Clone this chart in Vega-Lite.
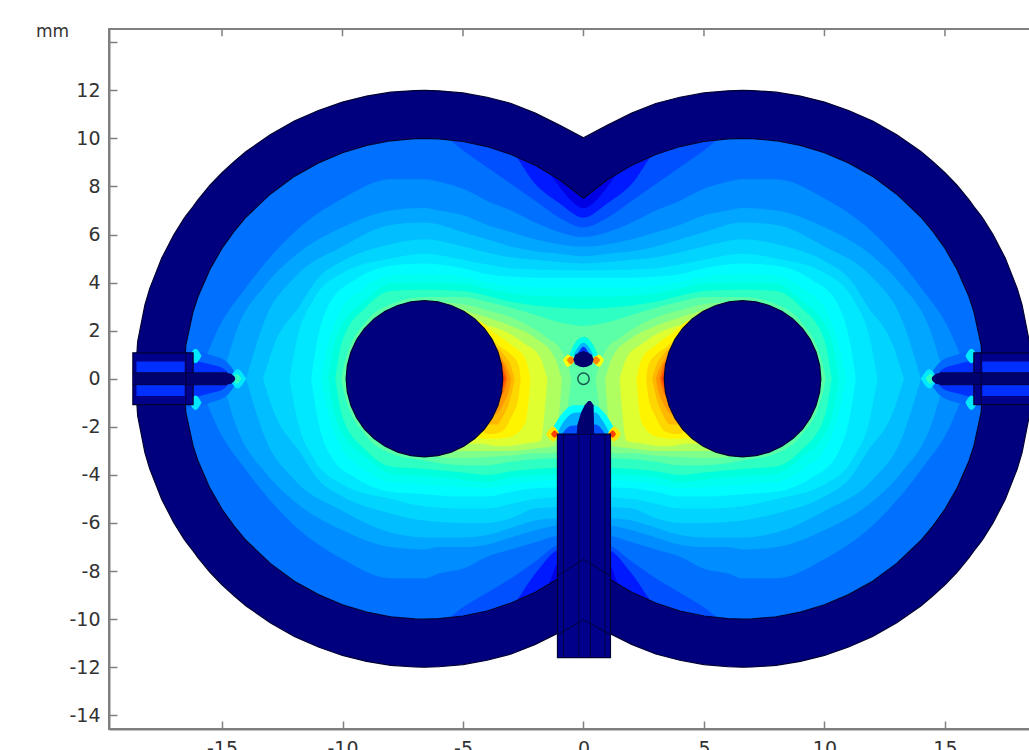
{"$schema":"https://vega.github.io/schema/vega-lite/v6.json","width":948,"height":700,"autosize":"none","padding":{"left":109,"top":29,"right":0,"bottom":40},"background":"white","view":{"stroke":"#808080","strokeWidth":2,"fill":"white"},
"datasets":{
"contours":[
{"s":"a","v":0.10,"x":-16.8,"y":0,"y2":0},{"s":"a","v":0.10,"x":-16.5,"y":3,"y2":-3},{"s":"a","v":0.10,"x":-16,"y":4,"y2":-4},{"s":"a","v":0.10,"x":-15,"y":6,"y2":-6},{"s":"a","v":0.10,"x":-14,"y":7.5,"y2":-7.5},{"s":"a","v":0.10,"x":-12,"y":9,"y2":-9},{"s":"a","v":0.10,"x":-10,"y":10,"y2":-10},{"s":"a","v":0.10,"x":-6.6,"y":10.5,"y2":-10.5},{"s":"a","v":0.10,"x":-4,"y":10.2,"y2":-10.2},{"s":"a","v":0.10,"x":-2,"y":9.5,"y2":-9.5},{"s":"a","v":0.10,"x":0,"y":8,"y2":-8},{"s":"a","v":0.10,"x":2,"y":9.5,"y2":-9.5},{"s":"a","v":0.10,"x":4,"y":10.2,"y2":-10.2},{"s":"a","v":0.10,"x":6.6,"y":10.5,"y2":-10.5},{"s":"a","v":0.10,"x":10,"y":10,"y2":-10},{"s":"a","v":0.10,"x":12,"y":9,"y2":-9},{"s":"a","v":0.10,"x":14,"y":7.5,"y2":-7.5},{"s":"a","v":0.10,"x":15,"y":6,"y2":-6},{"s":"a","v":0.10,"x":16,"y":4,"y2":-4},{"s":"a","v":0.10,"x":16.5,"y":3,"y2":-3},{"s":"a","v":0.10,"x":16.8,"y":0,"y2":0},
{"s":"b","v":0.13,"x":-16.8,"y":0,"y2":0},{"s":"b","v":0.13,"x":-16.5,"y":3,"y2":-3},{"s":"b","v":0.13,"x":-16,"y":4,"y2":-4},{"s":"b","v":0.13,"x":-15,"y":6,"y2":-6},{"s":"b","v":0.13,"x":-14,"y":7.5,"y2":-7.5},{"s":"b","v":0.13,"x":-12,"y":9,"y2":-9},{"s":"b","v":0.13,"x":-10,"y":10,"y2":-10},{"s":"b","v":0.13,"x":-6.6,"y":10.5,"y2":-10.5},{"s":"b","v":0.13,"x":-4,"y":10.2,"y2":-10.2},{"s":"b","v":0.13,"x":-2,"y":9.5,"y2":-9.5},{"s":"b","v":0.13,"x":-1.5,"y":8.7,"y2":-8.7},{"s":"b","v":0.13,"x":-1,"y":8,"y2":-7.6},{"s":"b","v":0.13,"x":-0.6,"y":7.5,"y2":-7.5},{"s":"b","v":0.13,"x":0,"y":7.1,"y2":-7.4},{"s":"b","v":0.13,"x":0.6,"y":7.5,"y2":-7.5},{"s":"b","v":0.13,"x":1,"y":8,"y2":-7.6},{"s":"b","v":0.13,"x":1.5,"y":8.7,"y2":-8.7},{"s":"b","v":0.13,"x":2,"y":9.5,"y2":-9.5},{"s":"b","v":0.13,"x":4,"y":10.2,"y2":-10.2},{"s":"b","v":0.13,"x":6.6,"y":10.5,"y2":-10.5},{"s":"b","v":0.13,"x":10,"y":10,"y2":-10},{"s":"b","v":0.13,"x":12,"y":9,"y2":-9},{"s":"b","v":0.13,"x":14,"y":7.5,"y2":-7.5},{"s":"b","v":0.13,"x":15,"y":6,"y2":-6},{"s":"b","v":0.13,"x":16,"y":4,"y2":-4},{"s":"b","v":0.13,"x":16.5,"y":3,"y2":-3},{"s":"b","v":0.13,"x":16.8,"y":0,"y2":0},
{"s":"c","v":0.16,"x":-16.8,"y":0,"y2":0},{"s":"c","v":0.16,"x":-16.5,"y":3,"y2":-3},{"s":"c","v":0.16,"x":-16,"y":4,"y2":-4},{"s":"c","v":0.16,"x":-15,"y":6,"y2":-6},{"s":"c","v":0.16,"x":-14,"y":7.5,"y2":-7.5},{"s":"c","v":0.16,"x":-12,"y":9,"y2":-9},{"s":"c","v":0.16,"x":-10,"y":10,"y2":-10},{"s":"c","v":0.16,"x":-6.6,"y":10.5,"y2":-10.5},{"s":"c","v":0.16,"x":-4,"y":10.1,"y2":-10.1},{"s":"c","v":0.16,"x":-3,"y":9.5,"y2":-9.5},{"s":"c","v":0.16,"x":-2,"y":8.1,"y2":-8.1},{"s":"c","v":0.16,"x":-1,"y":7.3,"y2":-7.1},{"s":"c","v":0.16,"x":0,"y":6.7,"y2":-7},{"s":"c","v":0.16,"x":1,"y":7.3,"y2":-7.1},{"s":"c","v":0.16,"x":2,"y":8.1,"y2":-8.1},{"s":"c","v":0.16,"x":3,"y":9.5,"y2":-9.5},{"s":"c","v":0.16,"x":4,"y":10.1,"y2":-10.1},{"s":"c","v":0.16,"x":6.6,"y":10.5,"y2":-10.5},{"s":"c","v":0.16,"x":10,"y":10,"y2":-10},{"s":"c","v":0.16,"x":12,"y":9,"y2":-9},{"s":"c","v":0.16,"x":14,"y":7.5,"y2":-7.5},{"s":"c","v":0.16,"x":15,"y":6,"y2":-6},{"s":"c","v":0.16,"x":16,"y":4,"y2":-4},{"s":"c","v":0.16,"x":16.5,"y":3,"y2":-3},{"s":"c","v":0.16,"x":16.8,"y":0,"y2":0},
{"s":"d","v":0.19,"x":-16.8,"y":0,"y2":0},{"s":"d","v":0.19,"x":-16.5,"y":3,"y2":-3},{"s":"d","v":0.19,"x":-16,"y":4,"y2":-4},{"s":"d","v":0.19,"x":-15,"y":6,"y2":-6},{"s":"d","v":0.19,"x":-14,"y":7.5,"y2":-7.5},{"s":"d","v":0.19,"x":-12,"y":9,"y2":-9},{"s":"d","v":0.19,"x":-10,"y":10,"y2":-10},{"s":"d","v":0.19,"x":-8,"y":10.4,"y2":-10.4},{"s":"d","v":0.19,"x":-6.6,"y":10.3,"y2":-10.3},{"s":"d","v":0.19,"x":-6,"y":10.2,"y2":-10.2},{"s":"d","v":0.19,"x":-5,"y":9.5,"y2":-9.5},{"s":"d","v":0.19,"x":-4,"y":8.8,"y2":-8.9},{"s":"d","v":0.19,"x":-3,"y":8.1,"y2":-8.3},{"s":"d","v":0.19,"x":-2,"y":7.4,"y2":-7.6},{"s":"d","v":0.19,"x":-1,"y":6.7,"y2":-6.9},{"s":"d","v":0.19,"x":0,"y":6.3,"y2":-6.8},{"s":"d","v":0.19,"x":1,"y":6.7,"y2":-6.9},{"s":"d","v":0.19,"x":2,"y":7.4,"y2":-7.6},{"s":"d","v":0.19,"x":3,"y":8.1,"y2":-8.3},{"s":"d","v":0.19,"x":4,"y":8.8,"y2":-8.9},{"s":"d","v":0.19,"x":5,"y":9.5,"y2":-9.5},{"s":"d","v":0.19,"x":6,"y":10.2,"y2":-10.2},{"s":"d","v":0.19,"x":6.6,"y":10.3,"y2":-10.3},{"s":"d","v":0.19,"x":8,"y":10.4,"y2":-10.4},{"s":"d","v":0.19,"x":10,"y":10,"y2":-10},{"s":"d","v":0.19,"x":12,"y":9,"y2":-9},{"s":"d","v":0.19,"x":14,"y":7.5,"y2":-7.5},{"s":"d","v":0.19,"x":15,"y":6,"y2":-6},{"s":"d","v":0.19,"x":16,"y":4,"y2":-4},{"s":"d","v":0.19,"x":16.5,"y":3,"y2":-3},{"s":"d","v":0.19,"x":16.8,"y":0,"y2":0},
{"s":"e","v":0.22,"x":-16,"y":0,"y2":0},{"s":"e","v":0.22,"x":-15.2,"y":2,"y2":-2},{"s":"e","v":0.22,"x":-14,"y":3.8,"y2":-3.8},{"s":"e","v":0.22,"x":-12,"y":6.1,"y2":-6.1},{"s":"e","v":0.22,"x":-10,"y":7.5,"y2":-7.5},{"s":"e","v":0.22,"x":-8,"y":8.3,"y2":-8.3},{"s":"e","v":0.22,"x":-6.6,"y":8.3,"y2":-8.3},{"s":"e","v":0.22,"x":-6,"y":8.2,"y2":-8.1},{"s":"e","v":0.22,"x":-5,"y":7.9,"y2":-7.9},{"s":"e","v":0.22,"x":-4,"y":7.4,"y2":-7.4},{"s":"e","v":0.22,"x":-3,"y":7,"y2":-7.1},{"s":"e","v":0.22,"x":-2,"y":6.5,"y2":-6.8},{"s":"e","v":0.22,"x":-1,"y":6.1,"y2":-6.5},{"s":"e","v":0.22,"x":0,"y":5.9,"y2":-6.4},{"s":"e","v":0.22,"x":1,"y":6.1,"y2":-6.5},{"s":"e","v":0.22,"x":2,"y":6.5,"y2":-6.8},{"s":"e","v":0.22,"x":3,"y":7,"y2":-7.1},{"s":"e","v":0.22,"x":4,"y":7.4,"y2":-7.4},{"s":"e","v":0.22,"x":5,"y":7.9,"y2":-7.9},{"s":"e","v":0.22,"x":6,"y":8.2,"y2":-8.1},{"s":"e","v":0.22,"x":6.6,"y":8.3,"y2":-8.3},{"s":"e","v":0.22,"x":8,"y":8.3,"y2":-8.3},{"s":"e","v":0.22,"x":10,"y":7.5,"y2":-7.5},{"s":"e","v":0.22,"x":12,"y":6.1,"y2":-6.1},{"s":"e","v":0.22,"x":14,"y":3.8,"y2":-3.8},{"s":"e","v":0.22,"x":15.2,"y":2,"y2":-2},{"s":"e","v":0.22,"x":16,"y":0,"y2":0},
{"s":"f","v":0.25,"x":-15,"y":0,"y2":0},{"s":"f","v":0.25,"x":-14.4,"y":2,"y2":-2},{"s":"f","v":0.25,"x":-13.2,"y":3.9,"y2":-3.9},{"s":"f","v":0.25,"x":-12,"y":5.1,"y2":-5.1},{"s":"f","v":0.25,"x":-10,"y":6.3,"y2":-6.3},{"s":"f","v":0.25,"x":-8,"y":7,"y2":-7},{"s":"f","v":0.25,"x":-6.6,"y":7.1,"y2":-7.1},{"s":"f","v":0.25,"x":-6,"y":7,"y2":-7},{"s":"f","v":0.25,"x":-5,"y":6.8,"y2":-7},{"s":"f","v":0.25,"x":-4,"y":6.4,"y2":-6.9},{"s":"f","v":0.25,"x":-3,"y":6.1,"y2":-6.6},{"s":"f","v":0.25,"x":-2,"y":5.8,"y2":-6.3},{"s":"f","v":0.25,"x":-1,"y":5.6,"y2":-6.1},{"s":"f","v":0.25,"x":0,"y":5.5,"y2":-6.1},{"s":"f","v":0.25,"x":1,"y":5.6,"y2":-6.1},{"s":"f","v":0.25,"x":2,"y":5.8,"y2":-6.3},{"s":"f","v":0.25,"x":3,"y":6.1,"y2":-6.6},{"s":"f","v":0.25,"x":4,"y":6.4,"y2":-6.9},{"s":"f","v":0.25,"x":5,"y":6.8,"y2":-7},{"s":"f","v":0.25,"x":6,"y":7,"y2":-7},{"s":"f","v":0.25,"x":6.6,"y":7.1,"y2":-7.1},{"s":"f","v":0.25,"x":8,"y":7,"y2":-7},{"s":"f","v":0.25,"x":10,"y":6.3,"y2":-6.3},{"s":"f","v":0.25,"x":12,"y":5.1,"y2":-5.1},{"s":"f","v":0.25,"x":13.2,"y":3.9,"y2":-3.9},{"s":"f","v":0.25,"x":14.4,"y":2,"y2":-2},{"s":"f","v":0.25,"x":15,"y":0,"y2":0},
{"s":"g","v":0.28,"x":-14,"y":0,"y2":0},{"s":"g","v":0.28,"x":-13.2,"y":2.5,"y2":-2.5},{"s":"g","v":0.28,"x":-12,"y":4.2,"y2":-4.2},{"s":"g","v":0.28,"x":-10,"y":5.5,"y2":-5.5},{"s":"g","v":0.28,"x":-8,"y":6.4,"y2":-6.4},{"s":"g","v":0.28,"x":-6.6,"y":6.5,"y2":-6.6},{"s":"g","v":0.28,"x":-5,"y":6.1,"y2":-6.6},{"s":"g","v":0.28,"x":-4,"y":5.8,"y2":-6.5},{"s":"g","v":0.28,"x":-3,"y":5.5,"y2":-6.2},{"s":"g","v":0.28,"x":-2,"y":5.3,"y2":-5.9},{"s":"g","v":0.28,"x":-1,"y":5.2,"y2":-5.8},{"s":"g","v":0.28,"x":0,"y":5.1,"y2":-5.8},{"s":"g","v":0.28,"x":1,"y":5.2,"y2":-5.8},{"s":"g","v":0.28,"x":2,"y":5.3,"y2":-5.9},{"s":"g","v":0.28,"x":3,"y":5.5,"y2":-6.2},{"s":"g","v":0.28,"x":4,"y":5.8,"y2":-6.5},{"s":"g","v":0.28,"x":5,"y":6.1,"y2":-6.6},{"s":"g","v":0.28,"x":6.6,"y":6.5,"y2":-6.6},{"s":"g","v":0.28,"x":8,"y":6.4,"y2":-6.4},{"s":"g","v":0.28,"x":10,"y":5.5,"y2":-5.5},{"s":"g","v":0.28,"x":12,"y":4.2,"y2":-4.2},{"s":"g","v":0.28,"x":13.2,"y":2.5,"y2":-2.5},{"s":"g","v":0.28,"x":14,"y":0,"y2":0},
{"s":"h","v":0.31,"x":-13.3,"y":0,"y2":0},{"s":"h","v":0.31,"x":-12.8,"y":1.5,"y2":-1.5},{"s":"h","v":0.31,"x":-11.8,"y":3,"y2":-3},{"s":"h","v":0.31,"x":-11,"y":4.2,"y2":-4.2},{"s":"h","v":0.31,"x":-10,"y":4.9,"y2":-4.9},{"s":"h","v":0.31,"x":-8,"y":5.6,"y2":-5.6},{"s":"h","v":0.31,"x":-6.6,"y":5.8,"y2":-5.9},{"s":"h","v":0.31,"x":-5,"y":5.5,"y2":-6},{"s":"h","v":0.31,"x":-4,"y":5.25,"y2":-6},{"s":"h","v":0.31,"x":-3,"y":5.05,"y2":-5.8},{"s":"h","v":0.31,"x":-2,"y":4.95,"y2":-5.4},{"s":"h","v":0.31,"x":0,"y":4.8,"y2":-5.3},{"s":"h","v":0.31,"x":2,"y":4.95,"y2":-5.4},{"s":"h","v":0.31,"x":3,"y":5.05,"y2":-5.8},{"s":"h","v":0.31,"x":4,"y":5.25,"y2":-6},{"s":"h","v":0.31,"x":5,"y":5.5,"y2":-6},{"s":"h","v":0.31,"x":6.6,"y":5.8,"y2":-5.9},{"s":"h","v":0.31,"x":8,"y":5.6,"y2":-5.6},{"s":"h","v":0.31,"x":10,"y":4.9,"y2":-4.9},{"s":"h","v":0.31,"x":11,"y":4.2,"y2":-4.2},{"s":"h","v":0.31,"x":11.8,"y":3,"y2":-3},{"s":"h","v":0.31,"x":12.8,"y":1.5,"y2":-1.5},{"s":"h","v":0.31,"x":13.3,"y":0,"y2":0},
{"s":"i","v":0.34,"x":-12.2,"y":0,"y2":0},{"s":"i","v":0.34,"x":-11.9,"y":1.6,"y2":-1.6},{"s":"i","v":0.34,"x":-11.2,"y":3.3,"y2":-3.3},{"s":"i","v":0.34,"x":-10,"y":4.4,"y2":-4.4},{"s":"i","v":0.34,"x":-8,"y":5,"y2":-5},{"s":"i","v":0.34,"x":-6.6,"y":5.2,"y2":-5.3},{"s":"i","v":0.34,"x":-5,"y":4.95,"y2":-5.4},{"s":"i","v":0.34,"x":-4,"y":4.75,"y2":-5.4},{"s":"i","v":0.34,"x":-3,"y":4.6,"y2":-5.2},{"s":"i","v":0.34,"x":-2,"y":4.55,"y2":-5},{"s":"i","v":0.34,"x":0,"y":4.5,"y2":-4.9},{"s":"i","v":0.34,"x":2,"y":4.55,"y2":-5},{"s":"i","v":0.34,"x":3,"y":4.6,"y2":-5.2},{"s":"i","v":0.34,"x":4,"y":4.75,"y2":-5.4},{"s":"i","v":0.34,"x":5,"y":4.95,"y2":-5.4},{"s":"i","v":0.34,"x":6.6,"y":5.2,"y2":-5.3},{"s":"i","v":0.34,"x":8,"y":5,"y2":-5},{"s":"i","v":0.34,"x":10,"y":4.4,"y2":-4.4},{"s":"i","v":0.34,"x":11.2,"y":3.3,"y2":-3.3},{"s":"i","v":0.34,"x":11.9,"y":1.6,"y2":-1.6},{"s":"i","v":0.34,"x":12.2,"y":0,"y2":0},
{"s":"j","v":0.37,"x":-11.3,"y":0,"y2":0},{"s":"j","v":0.37,"x":-11.1,"y":1.3,"y2":-1.3},{"s":"j","v":0.37,"x":-10.5,"y":3.2,"y2":-3.2},{"s":"j","v":0.37,"x":-9.5,"y":4.1,"y2":-4.1},{"s":"j","v":0.37,"x":-8,"y":4.7,"y2":-4.7},{"s":"j","v":0.37,"x":-6.6,"y":4.8,"y2":-4.8},{"s":"j","v":0.37,"x":-5,"y":4.6,"y2":-4.9},{"s":"j","v":0.37,"x":-4,"y":4.35,"y2":-4.9},{"s":"j","v":0.37,"x":-3,"y":4.25,"y2":-4.7},{"s":"j","v":0.37,"x":-2,"y":4.2,"y2":-4.55},{"s":"j","v":0.37,"x":0,"y":4.2,"y2":-4.5},{"s":"j","v":0.37,"x":2,"y":4.2,"y2":-4.55},{"s":"j","v":0.37,"x":3,"y":4.25,"y2":-4.7},{"s":"j","v":0.37,"x":4,"y":4.35,"y2":-4.9},{"s":"j","v":0.37,"x":5,"y":4.6,"y2":-4.9},{"s":"j","v":0.37,"x":6.6,"y":4.8,"y2":-4.8},{"s":"j","v":0.37,"x":8,"y":4.7,"y2":-4.7},{"s":"j","v":0.37,"x":9.5,"y":4.1,"y2":-4.1},{"s":"j","v":0.37,"x":10.5,"y":3.2,"y2":-3.2},{"s":"j","v":0.37,"x":11.1,"y":1.3,"y2":-1.3},{"s":"j","v":0.37,"x":11.3,"y":0,"y2":0},
{"s":"k","v":0.40,"x":-10.9,"y":0,"y2":0},{"s":"k","v":0.40,"x":-10.7,"y":1,"y2":-1},{"s":"k","v":0.40,"x":-10.1,"y":2.8,"y2":-2.8},{"s":"k","v":0.40,"x":-9.2,"y":3.7,"y2":-3.7},{"s":"k","v":0.40,"x":-8,"y":4.3,"y2":-4.3},{"s":"k","v":0.40,"x":-6.6,"y":4.35,"y2":-4.4},{"s":"k","v":0.40,"x":-5,"y":4.25,"y2":-4.5},{"s":"k","v":0.40,"x":-4,"y":4,"y2":-4.55},{"s":"k","v":0.40,"x":-3,"y":3.85,"y2":-4.4},{"s":"k","v":0.40,"x":-2,"y":3.8,"y2":-4.25},{"s":"k","v":0.40,"x":0,"y":3.8,"y2":-4.2},{"s":"k","v":0.40,"x":2,"y":3.8,"y2":-4.25},{"s":"k","v":0.40,"x":3,"y":3.85,"y2":-4.4},{"s":"k","v":0.40,"x":4,"y":4,"y2":-4.55},{"s":"k","v":0.40,"x":5,"y":4.25,"y2":-4.5},{"s":"k","v":0.40,"x":6.6,"y":4.35,"y2":-4.4},{"s":"k","v":0.40,"x":8,"y":4.3,"y2":-4.3},{"s":"k","v":0.40,"x":9.2,"y":3.7,"y2":-3.7},{"s":"k","v":0.40,"x":10.1,"y":2.8,"y2":-2.8},{"s":"k","v":0.40,"x":10.7,"y":1,"y2":-1},{"s":"k","v":0.40,"x":10.9,"y":0,"y2":0},
{"s":"l","v":0.43,"x":-10.6,"y":0,"y2":0},{"s":"l","v":0.43,"x":-10.2,"y":1.9,"y2":-1.9},{"s":"l","v":0.43,"x":-9,"y":3.3,"y2":-3.3},{"s":"l","v":0.43,"x":-8,"y":3.95,"y2":-3.95},{"s":"l","v":0.43,"x":-6.6,"y":4,"y2":-4.05},{"s":"l","v":0.43,"x":-5,"y":3.95,"y2":-4.2},{"s":"l","v":0.43,"x":-4,"y":3.75,"y2":-4.3},{"s":"l","v":0.43,"x":-3,"y":3.55,"y2":-4.1},{"s":"l","v":0.43,"x":-2,"y":3.45,"y2":-4},{"s":"l","v":0.43,"x":0,"y":3.4,"y2":-3.95},{"s":"l","v":0.43,"x":2,"y":3.45,"y2":-4},{"s":"l","v":0.43,"x":3,"y":3.55,"y2":-4.1},{"s":"l","v":0.43,"x":4,"y":3.75,"y2":-4.3},{"s":"l","v":0.43,"x":5,"y":3.95,"y2":-4.2},{"s":"l","v":0.43,"x":6.6,"y":4,"y2":-4.05},{"s":"l","v":0.43,"x":8,"y":3.95,"y2":-3.95},{"s":"l","v":0.43,"x":9,"y":3.3,"y2":-3.3},{"s":"l","v":0.43,"x":10.2,"y":1.9,"y2":-1.9},{"s":"l","v":0.43,"x":10.6,"y":0,"y2":0},
{"s":"m","v":0.46,"x":-10.3,"y":0,"y2":0},{"s":"m","v":0.46,"x":-10,"y":1.6,"y2":-1.6},{"s":"m","v":0.46,"x":-9,"y":3,"y2":-3},{"s":"m","v":0.46,"x":-8,"y":3.65,"y2":-3.65},{"s":"m","v":0.46,"x":-6.6,"y":3.7,"y2":-3.75},{"s":"m","v":0.46,"x":-5,"y":3.65,"y2":-3.9},{"s":"m","v":0.46,"x":-4,"y":3.45,"y2":-4},{"s":"m","v":0.46,"x":-3,"y":3.2,"y2":-3.85},{"s":"m","v":0.46,"x":-2,"y":3.05,"y2":-3.75},{"s":"m","v":0.46,"x":-1,"y":2.95,"y2":-3.7},{"s":"m","v":0.46,"x":0,"y":2.9,"y2":-3.7},{"s":"m","v":0.46,"x":1,"y":2.95,"y2":-3.7},{"s":"m","v":0.46,"x":2,"y":3.05,"y2":-3.75},{"s":"m","v":0.46,"x":3,"y":3.2,"y2":-3.85},{"s":"m","v":0.46,"x":4,"y":3.45,"y2":-4},{"s":"m","v":0.46,"x":5,"y":3.65,"y2":-3.9},{"s":"m","v":0.46,"x":6.6,"y":3.7,"y2":-3.75},{"s":"m","v":0.46,"x":8,"y":3.65,"y2":-3.65},{"s":"m","v":0.46,"x":9,"y":3,"y2":-3},{"s":"m","v":0.46,"x":10,"y":1.6,"y2":-1.6},{"s":"m","v":0.46,"x":10.3,"y":0,"y2":0},
{"s":"n","v":0.49,"x":-10.05,"y":0,"y2":0},{"s":"n","v":0.49,"x":-9.9,"y":0.7,"y2":-0.7},{"s":"n","v":0.49,"x":-9,"y":2.4,"y2":-2.4},{"s":"n","v":0.49,"x":-8,"y":3.1,"y2":-3.1},{"s":"n","v":0.49,"x":-6.6,"y":3.4,"y2":-3.4},{"s":"n","v":0.49,"x":-5,"y":3.4,"y2":-3.6},{"s":"n","v":0.49,"x":-4,"y":3.2,"y2":-3.6},{"s":"n","v":0.49,"x":-3,"y":2.95,"y2":-3.45},{"s":"n","v":0.49,"x":-2,"y":2.65,"y2":-3.35},{"s":"n","v":0.49,"x":-1,"y":2.35,"y2":-3.3},{"s":"n","v":0.49,"x":0,"y":2.2,"y2":-3.3},{"s":"n","v":0.49,"x":1,"y":2.35,"y2":-3.3},{"s":"n","v":0.49,"x":2,"y":2.65,"y2":-3.35},{"s":"n","v":0.49,"x":3,"y":2.95,"y2":-3.45},{"s":"n","v":0.49,"x":4,"y":3.2,"y2":-3.6},{"s":"n","v":0.49,"x":5,"y":3.4,"y2":-3.6},{"s":"n","v":0.49,"x":6.6,"y":3.4,"y2":-3.4},{"s":"n","v":0.49,"x":8,"y":3.1,"y2":-3.1},{"s":"n","v":0.49,"x":9,"y":2.4,"y2":-2.4},{"s":"n","v":0.49,"x":9.9,"y":0.7,"y2":-0.7},{"s":"n","v":0.49,"x":10.05,"y":0,"y2":0},
{"s":"oL","v":0.52,"x":-8,"y":1,"y2":-1},{"s":"oL","v":0.52,"x":-6.6,"y":3.2,"y2":-3.2},{"s":"oL","v":0.52,"x":-5,"y":3.1,"y2":-3.3},{"s":"oL","v":0.52,"x":-4,"y":2.85,"y2":-3.25},{"s":"oL","v":0.52,"x":-3,"y":2.55,"y2":-3.2},{"s":"oL","v":0.52,"x":-2,"y":2.05,"y2":-3.1},{"s":"oL","v":0.52,"x":-1.5,"y":1.7,"y2":-3.1},{"s":"oL","v":0.52,"x":-1,"y":1.3,"y2":-3},{"s":"oL","v":0.52,"x":-0.7,"y":0.7,"y2":-1.5},{"s":"oL","v":0.52,"x":-0.5,"y":0,"y2":0},
{"s":"oR","v":0.52,"x":0.5,"y":0,"y2":0},{"s":"oR","v":0.52,"x":0.7,"y":0.7,"y2":-1.5},{"s":"oR","v":0.52,"x":1,"y":1.3,"y2":-3},{"s":"oR","v":0.52,"x":1.5,"y":1.7,"y2":-3.1},{"s":"oR","v":0.52,"x":2,"y":2.05,"y2":-3.1},{"s":"oR","v":0.52,"x":3,"y":2.55,"y2":-3.2},{"s":"oR","v":0.52,"x":4,"y":2.85,"y2":-3.25},{"s":"oR","v":0.52,"x":5,"y":3.1,"y2":-3.3},{"s":"oR","v":0.52,"x":6.6,"y":3.2,"y2":-3.2},{"s":"oR","v":0.52,"x":8,"y":1,"y2":-1},
{"s":"pL","v":0.56,"x":-7,"y":1,"y2":-1},{"s":"pL","v":0.56,"x":-5.5,"y":3,"y2":-3},{"s":"pL","v":0.56,"x":-4.5,"y":2.7,"y2":-3},{"s":"pL","v":0.56,"x":-4,"y":2.55,"y2":-3},{"s":"pL","v":0.56,"x":-3,"y":2.2,"y2":-3},{"s":"pL","v":0.56,"x":-2,"y":1.7,"y2":-2.9},{"s":"pL","v":0.56,"x":-1.2,"y":0.9,"y2":-2.8},{"s":"pL","v":0.56,"x":-0.9,"y":0,"y2":0},
{"s":"pR","v":0.56,"x":0.9,"y":0,"y2":0},{"s":"pR","v":0.56,"x":1.2,"y":0.9,"y2":-2.8},{"s":"pR","v":0.56,"x":2,"y":1.7,"y2":-2.9},{"s":"pR","v":0.56,"x":3,"y":2.2,"y2":-3},{"s":"pR","v":0.56,"x":4,"y":2.55,"y2":-3},{"s":"pR","v":0.56,"x":4.5,"y":2.7,"y2":-3},{"s":"pR","v":0.56,"x":5.5,"y":3,"y2":-3},{"s":"pR","v":0.56,"x":7,"y":1,"y2":-1},
{"s":"qL","v":0.60,"x":-6,"y":1,"y2":-1},{"s":"qL","v":0.60,"x":-5,"y":2.7,"y2":-2.7},{"s":"qL","v":0.60,"x":-4.2,"y":2.3,"y2":-2.7},{"s":"qL","v":0.60,"x":-3.6,"y":2.1,"y2":-2.8},{"s":"qL","v":0.60,"x":-3.2,"y":1.95,"y2":-2.8},{"s":"qL","v":0.60,"x":-2.5,"y":1.5,"y2":-2.7},{"s":"qL","v":0.60,"x":-1.8,"y":0.9,"y2":-2.6},{"s":"qL","v":0.60,"x":-1.5,"y":0,"y2":0},
{"s":"qR","v":0.60,"x":1.5,"y":0,"y2":0},{"s":"qR","v":0.60,"x":1.8,"y":0.9,"y2":-2.6},{"s":"qR","v":0.60,"x":2.5,"y":1.5,"y2":-2.7},{"s":"qR","v":0.60,"x":3.2,"y":1.95,"y2":-2.8},{"s":"qR","v":0.60,"x":3.6,"y":2.1,"y2":-2.8},{"s":"qR","v":0.60,"x":4.2,"y":2.3,"y2":-2.7},{"s":"qR","v":0.60,"x":5,"y":2.7,"y2":-2.7},{"s":"qR","v":0.60,"x":6,"y":1,"y2":-1},
{"s":"rL","v":0.64,"x":-5.5,"y":1,"y2":-1},{"s":"rL","v":0.64,"x":-4.5,"y":2.45,"y2":-2.45},{"s":"rL","v":0.64,"x":-3.7,"y":1.9,"y2":-2.5},{"s":"rL","v":0.64,"x":-3,"y":1.4,"y2":-2.4},{"s":"rL","v":0.64,"x":-2.4,"y":0.8,"y2":-1.8},{"s":"rL","v":0.64,"x":-2.2,"y":0,"y2":0},
{"s":"rR","v":0.64,"x":2.2,"y":0,"y2":0},{"s":"rR","v":0.64,"x":2.4,"y":0.8,"y2":-1.8},{"s":"rR","v":0.64,"x":3,"y":1.4,"y2":-2.4},{"s":"rR","v":0.64,"x":3.7,"y":1.9,"y2":-2.5},{"s":"rR","v":0.64,"x":4.5,"y":2.45,"y2":-2.45},{"s":"rR","v":0.64,"x":5.5,"y":1,"y2":-1},
{"s":"sL","v":0.68,"x":-5,"y":1,"y2":-1},{"s":"sL","v":0.68,"x":-4.2,"y":1.9,"y2":-2.2},{"s":"sL","v":0.68,"x":-3.9,"y":1.7,"y2":-2.3},{"s":"sL","v":0.68,"x":-3.4,"y":1.3,"y2":-2.2},{"s":"sL","v":0.68,"x":-3,"y":1,"y2":-1.6},{"s":"sL","v":0.68,"x":-2.7,"y":0.6,"y2":-0.8},{"s":"sL","v":0.68,"x":-2.6,"y":0,"y2":0},
{"s":"sR","v":0.68,"x":2.6,"y":0,"y2":0},{"s":"sR","v":0.68,"x":2.7,"y":0.6,"y2":-0.8},{"s":"sR","v":0.68,"x":3,"y":1,"y2":-1.6},{"s":"sR","v":0.68,"x":3.4,"y":1.3,"y2":-2.2},{"s":"sR","v":0.68,"x":3.9,"y":1.7,"y2":-2.3},{"s":"sR","v":0.68,"x":4.2,"y":1.9,"y2":-2.2},{"s":"sR","v":0.68,"x":5,"y":1,"y2":-1},
{"s":"tL","v":0.72,"x":-4.5,"y":1,"y2":-1},{"s":"tL","v":0.72,"x":-4,"y":1.5,"y2":-1.9},{"s":"tL","v":0.72,"x":-3.6,"y":1.3,"y2":-1.9},{"s":"tL","v":0.72,"x":-3.3,"y":1,"y2":-1.5},{"s":"tL","v":0.72,"x":-3,"y":0.5,"y2":-0.7},{"s":"tL","v":0.72,"x":-2.85,"y":0,"y2":0},
{"s":"tR","v":0.72,"x":2.85,"y":0,"y2":0},{"s":"tR","v":0.72,"x":3,"y":0.5,"y2":-0.7},{"s":"tR","v":0.72,"x":3.3,"y":1,"y2":-1.5},{"s":"tR","v":0.72,"x":3.6,"y":1.3,"y2":-1.9},{"s":"tR","v":0.72,"x":4,"y":1.5,"y2":-1.9},{"s":"tR","v":0.72,"x":4.5,"y":1,"y2":-1},
{"s":"uL","v":0.76,"x":-4.2,"y":1,"y2":-1},{"s":"uL","v":0.76,"x":-3.7,"y":1.2,"y2":-1.5},{"s":"uL","v":0.76,"x":-3.3,"y":0.7,"y2":-1},{"s":"uL","v":0.76,"x":-3.1,"y":0.3,"y2":-0.5},{"s":"uL","v":0.76,"x":-3,"y":0,"y2":0},
{"s":"uR","v":0.76,"x":3,"y":0,"y2":0},{"s":"uR","v":0.76,"x":3.1,"y":0.3,"y2":-0.5},{"s":"uR","v":0.76,"x":3.3,"y":0.7,"y2":-1},{"s":"uR","v":0.76,"x":3.7,"y":1.2,"y2":-1.5},{"s":"uR","v":0.76,"x":4.2,"y":1,"y2":-1},
{"s":"vL","v":0.80,"x":-4,"y":0.8,"y2":-0.8},{"s":"vL","v":0.80,"x":-3.6,"y":0.9,"y2":-0.9},{"s":"vL","v":0.80,"x":-3.25,"y":0.4,"y2":-0.4},{"s":"vL","v":0.80,"x":-3.15,"y":0,"y2":0},
{"s":"vR","v":0.80,"x":3.15,"y":0,"y2":0},{"s":"vR","v":0.80,"x":3.25,"y":0.4,"y2":-0.4},{"s":"vR","v":0.80,"x":3.6,"y":0.9,"y2":-0.9},{"s":"vR","v":0.80,"x":4,"y":0.8,"y2":-0.8},
{"s":"v2L","v":0.84,"x":-4,"y":0.6,"y2":-0.6},{"s":"v2L","v":0.84,"x":-3.5,"y":0.6,"y2":-0.6},{"s":"v2L","v":0.84,"x":-3.28,"y":0.2,"y2":-0.2},{"s":"v2L","v":0.84,"x":-3.22,"y":0,"y2":0},
{"s":"v2R","v":0.84,"x":3.22,"y":0,"y2":0},{"s":"v2R","v":0.84,"x":3.28,"y":0.2,"y2":-0.2},{"s":"v2R","v":0.84,"x":3.5,"y":0.6,"y2":-0.6},{"s":"v2R","v":0.84,"x":4,"y":0.6,"y2":-0.6},
{"s":"w1","v":0.42,"x":-0.6,"y":0.95,"y2":0.95},{"s":"w1","v":0.42,"x":-0.35,"y":1.5,"y2":0.95},{"s":"w1","v":0.42,"x":0,"y":1.75,"y2":0.95},{"s":"w1","v":0.42,"x":0.35,"y":1.5,"y2":0.95},{"s":"w1","v":0.42,"x":0.6,"y":0.95,"y2":0.95},
{"s":"w2","v":0.27,"x":-0.4,"y":1,"y2":1},{"s":"w2","v":0.27,"x":-0.2,"y":1.35,"y2":1},{"s":"w2","v":0.27,"x":0,"y":1.5,"y2":1},{"s":"w2","v":0.27,"x":0.2,"y":1.35,"y2":1},{"s":"w2","v":0.27,"x":0.4,"y":1,"y2":1},
{"s":"w3","v":0.14,"x":-0.25,"y":1,"y2":1},{"s":"w3","v":0.14,"x":0,"y":1.33,"y2":1},{"s":"w3","v":0.14,"x":0.25,"y":1,"y2":1},
{"s":"e1","v":0.62,"x":-0.85,"y":0.78,"y2":0.78},{"s":"e1","v":0.62,"x":-0.65,"y":1,"y2":0.5},{"s":"e1","v":0.62,"x":-0.35,"y":0.78,"y2":0.78},
{"s":"e2","v":0.62,"x":0.35,"y":0.78,"y2":0.78},{"s":"e2","v":0.62,"x":0.65,"y":1,"y2":0.5},{"s":"e2","v":0.62,"x":0.85,"y":0.78,"y2":0.78},
{"s":"e3","v":0.78,"x":-0.7,"y":0.78,"y2":0.78},{"s":"e3","v":0.78,"x":-0.52,"y":0.93,"y2":0.6},{"s":"e3","v":0.78,"x":-0.35,"y":0.78,"y2":0.78},
{"s":"e4","v":0.78,"x":0.35,"y":0.78,"y2":0.78},{"s":"e4","v":0.78,"x":0.52,"y":0.93,"y2":0.6},{"s":"e4","v":0.78,"x":0.7,"y":0.78,"y2":0.78},
{"s":"x1","v":0.38,"x":-1.4,"y":-2.3,"y2":-2.3},{"s":"x1","v":0.38,"x":-1,"y":-1.6,"y2":-2.3},{"s":"x1","v":0.38,"x":-0.4,"y":-1.1,"y2":-2.3},{"s":"x1","v":0.38,"x":0.4,"y":-1.1,"y2":-2.3},{"s":"x1","v":0.38,"x":1,"y":-1.6,"y2":-2.3},{"s":"x1","v":0.38,"x":1.4,"y":-2.3,"y2":-2.3},
{"s":"x2","v":0.26,"x":-1.1,"y":-2.3,"y2":-2.3},{"s":"x2","v":0.26,"x":-0.8,"y":-1.75,"y2":-2.3},{"s":"x2","v":0.26,"x":-0.3,"y":-1.4,"y2":-2.3},{"s":"x2","v":0.26,"x":0.5,"y":-1.4,"y2":-2.3},{"s":"x2","v":0.26,"x":0.8,"y":-1.75,"y2":-2.3},{"s":"x2","v":0.26,"x":1.1,"y":-2.3,"y2":-2.3},
{"s":"x3","v":0.16,"x":-0.9,"y":-2.3,"y2":-2.3},{"s":"x3","v":0.16,"x":-0.5,"y":-1.95,"y2":-2.3},{"s":"x3","v":0.16,"x":0.5,"y":-1.9,"y2":-2.3},{"s":"x3","v":0.16,"x":0.9,"y":-2.3,"y2":-2.3},
{"s":"y1","v":0.66,"x":-1.55,"y":-2.3,"y2":-2.3},{"s":"y1","v":0.66,"x":-1.25,"y":-2,"y2":-2.6},{"s":"y1","v":0.66,"x":-1,"y":-2.3,"y2":-2.3},
{"s":"y2","v":0.66,"x":1,"y":-2.3,"y2":-2.3},{"s":"y2","v":0.66,"x":1.27,"y":-2,"y2":-2.6},{"s":"y2","v":0.66,"x":1.55,"y":-2.3,"y2":-2.3},
{"s":"y3","v":0.85,"x":-1.35,"y":-2.3,"y2":-2.3},{"s":"y3","v":0.85,"x":-1.2,"y":-2.15,"y2":-2.45},{"s":"y3","v":0.85,"x":-1.05,"y":-2.3,"y2":-2.3},
{"s":"y4","v":0.85,"x":1.05,"y":-2.3,"y2":-2.3},{"s":"y4","v":0.85,"x":1.22,"y":-2.15,"y2":-2.45},{"s":"y4","v":0.85,"x":1.35,"y":-2.3,"y2":-2.3},
{"s":"h1","v":0.18,"x":-16.7,"y":1.3,"y2":-1.3},{"s":"h1","v":0.18,"x":-15.5,"y":1,"y2":-1},{"s":"h1","v":0.18,"x":-14.8,"y":0.7,"y2":-0.7},{"s":"h1","v":0.18,"x":-14.3,"y":0,"y2":0},
{"s":"h2","v":0.18,"x":14.3,"y":0,"y2":0},{"s":"h2","v":0.18,"x":14.8,"y":0.7,"y2":-0.7},{"s":"h2","v":0.18,"x":15.5,"y":1,"y2":-1},{"s":"h2","v":0.18,"x":16.7,"y":1.3,"y2":-1.3},
{"s":"h3","v":0.14,"x":-16.7,"y":0.9,"y2":-0.9},{"s":"h3","v":0.14,"x":-15.5,"y":0.6,"y2":-0.6},{"s":"h3","v":0.14,"x":-14.9,"y":0.4,"y2":-0.4},{"s":"h3","v":0.14,"x":-14.6,"y":0,"y2":0},
{"s":"h4","v":0.14,"x":14.6,"y":0,"y2":0},{"s":"h4","v":0.14,"x":14.9,"y":0.4,"y2":-0.4},{"s":"h4","v":0.14,"x":15.5,"y":0.6,"y2":-0.6},{"s":"h4","v":0.14,"x":16.7,"y":0.9,"y2":-0.9},
{"s":"z1","v":0.34,"x":-14.7,"y":0,"y2":0},{"s":"z1","v":0.34,"x":-14.35,"y":0.4,"y2":-0.4},{"s":"z1","v":0.34,"x":-14,"y":0,"y2":0},
{"s":"z2","v":0.34,"x":14,"y":0,"y2":0},{"s":"z2","v":0.34,"x":14.35,"y":0.4,"y2":-0.4},{"s":"z2","v":0.34,"x":14.7,"y":0,"y2":0},
{"s":"z3","v":0.46,"x":-14.6,"y":0,"y2":0},{"s":"z3","v":0.46,"x":-14.38,"y":0.2,"y2":-0.2},{"s":"z3","v":0.46,"x":-14.2,"y":0,"y2":0},
{"s":"z4","v":0.46,"x":14.2,"y":0,"y2":0},{"s":"z4","v":0.46,"x":14.38,"y":0.2,"y2":-0.2},{"s":"z4","v":0.46,"x":14.6,"y":0,"y2":0},
{"s":"z5","v":0.34,"x":-16.35,"y":0.95,"y2":0.95},{"s":"z5","v":0.34,"x":-16.1,"y":1.25,"y2":0.65},{"s":"z5","v":0.34,"x":-15.85,"y":0.95,"y2":0.95},
{"s":"z6","v":0.34,"x":-16.35,"y":-1,"y2":-1},{"s":"z6","v":0.34,"x":-16.1,"y":-0.7,"y2":-1.3},{"s":"z6","v":0.34,"x":-15.85,"y":-1,"y2":-1},
{"s":"z7","v":0.34,"x":15.85,"y":0.95,"y2":0.95},{"s":"z7","v":0.34,"x":16.1,"y":1.25,"y2":0.65},{"s":"z7","v":0.34,"x":16.35,"y":0.95,"y2":0.95},
{"s":"z8","v":0.34,"x":15.85,"y":-1,"y2":-1},{"s":"z8","v":0.34,"x":16.1,"y":-0.7,"y2":-1.3},{"s":"z8","v":0.34,"x":16.35,"y":-1,"y2":-1}
],
"ring":[
{"s":"t","x":-18.6,"y":0,"y2":0},{"s":"t","x":-18.5,"y":1.55,"y2":0},{"s":"t","x":-18.2,"y":3.07,"y2":0},{"s":"t","x":-18,"y":3.75,"y2":0},{"s":"t","x":-17.5,"y":5.02,"y2":0},{"s":"t","x":-17,"y":5.99,"y2":0},{"s":"t","x":-16.6,"y":6.63,"y2":0},{"s":"t","x":-16.5,"y":6.78,"y2":1.41},{"s":"t","x":-16.2,"y":7.16,"y2":2.8},{"s":"t","x":-16,"y":7.44,"y2":3.41},{"s":"t","x":-15.5,"y":8.05,"y2":4.56},{"s":"t","x":-15,"y":8.57,"y2":5.43},{"s":"t","x":-14.5,"y":9.03,"y2":6.13},{"s":"t","x":-14,"y":9.45,"y2":6.73},{"s":"t","x":-13,"y":10.15,"y2":7.68},{"s":"t","x":-12,"y":10.72,"y2":8.42},{"s":"t","x":-11,"y":11.16,"y2":8.98},{"s":"t","x":-10,"y":11.51,"y2":9.4},{"s":"t","x":-9,"y":11.76,"y2":9.71},{"s":"t","x":-8,"y":11.92,"y2":9.9},{"s":"t","x":-7,"y":11.99,"y2":9.99},{"s":"t","x":-6.6,"y":12,"y2":10},{"s":"t","x":-6,"y":11.98,"y2":9.98},{"s":"t","x":-5,"y":11.89,"y2":9.87},{"s":"t","x":-4,"y":11.71,"y2":9.66},{"s":"t","x":-3,"y":11.45,"y2":9.33},{"s":"t","x":-2,"y":11.05,"y2":8.88},{"s":"t","x":-1,"y":10.55,"y2":8.29},{"s":"t","x":0,"y":10.02,"y2":7.51},{"s":"t","x":1,"y":10.55,"y2":8.29},{"s":"t","x":2,"y":11.05,"y2":8.88},{"s":"t","x":3,"y":11.45,"y2":9.33},{"s":"t","x":4,"y":11.71,"y2":9.66},{"s":"t","x":5,"y":11.89,"y2":9.87},{"s":"t","x":6,"y":11.98,"y2":9.98},{"s":"t","x":6.6,"y":12,"y2":10},{"s":"t","x":7,"y":11.99,"y2":9.99},{"s":"t","x":8,"y":11.92,"y2":9.9},{"s":"t","x":9,"y":11.76,"y2":9.71},{"s":"t","x":10,"y":11.51,"y2":9.4},{"s":"t","x":11,"y":11.16,"y2":8.98},{"s":"t","x":12,"y":10.72,"y2":8.42},{"s":"t","x":13,"y":10.15,"y2":7.68},{"s":"t","x":14,"y":9.45,"y2":6.73},{"s":"t","x":14.5,"y":9.03,"y2":6.13},{"s":"t","x":15,"y":8.57,"y2":5.43},{"s":"t","x":15.5,"y":8.05,"y2":4.56},{"s":"t","x":16,"y":7.44,"y2":3.41},{"s":"t","x":16.2,"y":7.16,"y2":2.8},{"s":"t","x":16.5,"y":6.78,"y2":1.41},{"s":"t","x":16.6,"y":6.63,"y2":0},{"s":"t","x":17,"y":5.99,"y2":0},{"s":"t","x":17.5,"y":5.02,"y2":0},{"s":"t","x":18,"y":3.75,"y2":0},{"s":"t","x":18.2,"y":3.07,"y2":0},{"s":"t","x":18.5,"y":1.55,"y2":0},{"s":"t","x":18.6,"y":0,"y2":0},
{"s":"u","x":-18.6,"y":0,"y2":0},{"s":"u","x":-18.5,"y":-1.55,"y2":0},{"s":"u","x":-18.2,"y":-3.07,"y2":0},{"s":"u","x":-18,"y":-3.75,"y2":0},{"s":"u","x":-17.5,"y":-5.02,"y2":0},{"s":"u","x":-17,"y":-5.99,"y2":0},{"s":"u","x":-16.6,"y":-6.63,"y2":0},{"s":"u","x":-16.5,"y":-6.78,"y2":-1.41},{"s":"u","x":-16.2,"y":-7.16,"y2":-2.8},{"s":"u","x":-16,"y":-7.44,"y2":-3.41},{"s":"u","x":-15.5,"y":-8.05,"y2":-4.56},{"s":"u","x":-15,"y":-8.57,"y2":-5.43},{"s":"u","x":-14.5,"y":-9.03,"y2":-6.13},{"s":"u","x":-14,"y":-9.45,"y2":-6.73},{"s":"u","x":-13,"y":-10.15,"y2":-7.68},{"s":"u","x":-12,"y":-10.72,"y2":-8.42},{"s":"u","x":-11,"y":-11.16,"y2":-8.98},{"s":"u","x":-10,"y":-11.51,"y2":-9.4},{"s":"u","x":-9,"y":-11.76,"y2":-9.71},{"s":"u","x":-8,"y":-11.92,"y2":-9.9},{"s":"u","x":-7,"y":-11.99,"y2":-9.99},{"s":"u","x":-6.6,"y":-12,"y2":-10},{"s":"u","x":-6,"y":-11.98,"y2":-9.98},{"s":"u","x":-5,"y":-11.89,"y2":-9.87},{"s":"u","x":-4,"y":-11.71,"y2":-9.66},{"s":"u","x":-3,"y":-11.45,"y2":-9.33},{"s":"u","x":-2,"y":-11.05,"y2":-8.88},{"s":"u","x":-1,"y":-10.55,"y2":-8.29},{"s":"u","x":0,"y":-10.02,"y2":-7.51},{"s":"u","x":1,"y":-10.55,"y2":-8.29},{"s":"u","x":2,"y":-11.05,"y2":-8.88},{"s":"u","x":3,"y":-11.45,"y2":-9.33},{"s":"u","x":4,"y":-11.71,"y2":-9.66},{"s":"u","x":5,"y":-11.89,"y2":-9.87},{"s":"u","x":6,"y":-11.98,"y2":-9.98},{"s":"u","x":6.6,"y":-12,"y2":-10},{"s":"u","x":7,"y":-11.99,"y2":-9.99},{"s":"u","x":8,"y":-11.92,"y2":-9.9},{"s":"u","x":9,"y":-11.76,"y2":-9.71},{"s":"u","x":10,"y":-11.51,"y2":-9.4},{"s":"u","x":11,"y":-11.16,"y2":-8.98},{"s":"u","x":12,"y":-10.72,"y2":-8.42},{"s":"u","x":13,"y":-10.15,"y2":-7.68},{"s":"u","x":14,"y":-9.45,"y2":-6.73},{"s":"u","x":14.5,"y":-9.03,"y2":-6.13},{"s":"u","x":15,"y":-8.57,"y2":-5.43},{"s":"u","x":15.5,"y":-8.05,"y2":-4.56},{"s":"u","x":16,"y":-7.44,"y2":-3.41},{"s":"u","x":16.2,"y":-7.16,"y2":-2.8},{"s":"u","x":16.5,"y":-6.78,"y2":-1.41},{"s":"u","x":16.6,"y":-6.63,"y2":0},{"s":"u","x":17,"y":-5.99,"y2":0},{"s":"u","x":17.5,"y":-5.02,"y2":0},{"s":"u","x":18,"y":-3.75,"y2":0},{"s":"u","x":18.2,"y":-3.07,"y2":0},{"s":"u","x":18.5,"y":-1.55,"y2":0},{"s":"u","x":18.6,"y":0,"y2":0},
{"s":"hL","x":-9.85,"y":0,"y2":0},{"s":"hL","x":-9.8,"y":0.56,"y2":-0.56},{"s":"hL","x":-9.65,"y":1.11,"y2":-1.11},{"s":"hL","x":-9.41,"y":1.63,"y2":-1.63},{"s":"hL","x":-9.09,"y":2.09,"y2":-2.09},{"s":"hL","x":-8.69,"y":2.49,"y2":-2.49},{"s":"hL","x":-8.23,"y":2.81,"y2":-2.81},{"s":"hL","x":-7.71,"y":3.05,"y2":-3.05},{"s":"hL","x":-7.16,"y":3.2,"y2":-3.2},{"s":"hL","x":-6.6,"y":3.25,"y2":-3.25},{"s":"hL","x":-6.04,"y":3.2,"y2":-3.2},{"s":"hL","x":-5.49,"y":3.05,"y2":-3.05},{"s":"hL","x":-4.97,"y":2.81,"y2":-2.81},{"s":"hL","x":-4.51,"y":2.49,"y2":-2.49},{"s":"hL","x":-4.11,"y":2.09,"y2":-2.09},{"s":"hL","x":-3.79,"y":1.63,"y2":-1.63},{"s":"hL","x":-3.55,"y":1.11,"y2":-1.11},{"s":"hL","x":-3.4,"y":0.56,"y2":-0.56},{"s":"hL","x":-3.35,"y":0,"y2":0},
{"s":"hR","x":3.35,"y":0,"y2":0},{"s":"hR","x":3.4,"y":0.56,"y2":-0.56},{"s":"hR","x":3.55,"y":1.11,"y2":-1.11},{"s":"hR","x":3.79,"y":1.63,"y2":-1.63},{"s":"hR","x":4.11,"y":2.09,"y2":-2.09},{"s":"hR","x":4.51,"y":2.49,"y2":-2.49},{"s":"hR","x":4.97,"y":2.81,"y2":-2.81},{"s":"hR","x":5.49,"y":3.05,"y2":-3.05},{"s":"hR","x":6.04,"y":3.2,"y2":-3.2},{"s":"hR","x":6.6,"y":3.25,"y2":-3.25},{"s":"hR","x":7.16,"y":3.2,"y2":-3.2},{"s":"hR","x":7.71,"y":3.05,"y2":-3.05},{"s":"hR","x":8.23,"y":2.81,"y2":-2.81},{"s":"hR","x":8.69,"y":2.49,"y2":-2.49},{"s":"hR","x":9.09,"y":2.09,"y2":-2.09},{"s":"hR","x":9.41,"y":1.63,"y2":-1.63},{"s":"hR","x":9.65,"y":1.11,"y2":-1.11},{"s":"hR","x":9.8,"y":0.56,"y2":-0.56},{"s":"hR","x":9.85,"y":0,"y2":0}
],
"boxes":[
{"x":-1.08,"x2":1.12,"y":-11.6,"y2":-2.3},
{"x":-18.7,"x2":-16.2,"y":-1.08,"y2":1.08},
{"x":16.2,"x2":18.7,"y":-1.08,"y2":1.08}
],
"strips":[
{"x":-18.55,"x2":-16.55,"y":0.25,"y2":0.72},
{"x":-18.55,"x2":-16.55,"y":-0.72,"y2":-0.25},
{"x":16.55,"x2":18.55,"y":0.25,"y2":0.72},
{"x":16.55,"x2":18.55,"y":-0.72,"y2":-0.25}
],
"parts":[
{"s":"barL","x":-18.7,"y":0.25,"y2":-0.25},{"s":"barL","x":-14.8,"y":0.25,"y2":-0.25},{"s":"barL","x":-14.6,"y":0.2,"y2":-0.2},{"s":"barL","x":-14.48,"y":0.08,"y2":-0.08},{"s":"barL","x":-14.45,"y":0,"y2":0},
{"s":"barR","x":14.45,"y":0,"y2":0},{"s":"barR","x":14.48,"y":0.08,"y2":-0.08},{"s":"barR","x":14.6,"y":0.2,"y2":-0.2},{"s":"barR","x":14.8,"y":0.25,"y2":-0.25},{"s":"barR","x":18.7,"y":0.25,"y2":-0.25},
{"s":"needle","x":-0.28,"y":-2.3,"y2":-2.3},{"s":"needle","x":-0.25,"y":-1.9,"y2":-2.3},{"s":"needle","x":-0.1,"y":-1.4,"y2":-2.3},{"s":"needle","x":0.05,"y":-1.1,"y2":-2.3},{"s":"needle","x":0.2,"y":-0.93,"y2":-2.3},{"s":"needle","x":0.3,"y":-0.92,"y2":-2.3},{"s":"needle","x":0.42,"y":-1.1,"y2":-2.3},{"s":"needle","x":0.43,"y":-1.6,"y2":-2.3},{"s":"needle","x":0.44,"y":-2.3,"y2":-2.3},
{"s":"elec","x":-0.42,"y":0.8,"y2":0.8},{"s":"elec","x":-0.35,"y":1,"y2":0.6},{"s":"elec","x":-0.15,"y":1.1,"y2":0.5},{"s":"elec","x":0,"y":1.15,"y2":0.48},{"s":"elec","x":0.15,"y":1.1,"y2":0.5},{"s":"elec","x":0.35,"y":1,"y2":0.6},{"s":"elec","x":0.42,"y":0.8,"y2":0.8}
],
"lines":[
{"s":"c1","x":-1.08,"y":-8.2},{"s":"c1","x":0,"y":-7.51},{"s":"c1","x":1.12,"y":-8.2},
{"s":"c2","x":-1.08,"y":-10.65},{"s":"c2","x":0,"y":-10.02},{"s":"c2","x":1.12,"y":-10.65},
{"s":"p1","x":-0.83,"y":-11.6},{"s":"p1","x":-0.83,"y":-2.3},
{"s":"p2","x":-0.2,"y":-11.6},{"s":"p2","x":-0.2,"y":-2.3},
{"s":"p3","x":0.29,"y":-11.6},{"s":"p3","x":0.29,"y":-2.3},
{"s":"p4","x":0.89,"y":-11.6},{"s":"p4","x":0.89,"y":-2.3},
{"s":"l1","x":-16.5,"y":-1.08},{"s":"l1","x":-16.5,"y":1.08},
{"s":"l2","x":16.5,"y":-1.08},{"s":"l2","x":16.5,"y":1.08},
{"s":"l3","x":-18.7,"y":0.25},{"s":"l3","x":-14.8,"y":0.25},
{"s":"l4","x":-18.7,"y":-0.25},{"s":"l4","x":-14.8,"y":-0.25},
{"s":"l5","x":14.8,"y":0.25},{"s":"l5","x":18.7,"y":0.25},
{"s":"l6","x":14.8,"y":-0.25},{"s":"l6","x":18.7,"y":-0.25}
],
"ring0":[{"x":0,"y":0}],
"topticks":[{"x":-15,"y":14.55,"y2":14.25},{"x":-10,"y":14.55,"y2":14.25},{"x":-5,"y":14.55,"y2":14.25},{"x":0,"y":14.55,"y2":14.25},{"x":5,"y":14.55,"y2":14.25},{"x":10,"y":14.55,"y2":14.25},{"x":15,"y":14.55,"y2":14.25}]
},
"encoding":{
"x":{"field":"x","type":"quantitative","scale":{"domain":[-19.69,19.65],"nice":false,"zero":false},"title":null,"axis":{"values":[-15,-10,-5,0,5,10,15],"labelExpr":"''+datum.value","grid":false,"domainColor":"#808080","domainWidth":2,"tickColor":"#808080","tickWidth":1.5,"tickSize":-8,"labelPadding":18,"labelFont":"DejaVu Sans","labelFontSize":19,"labelColor":"#333333","labelFlush":false,"labelOverlap":false}},
"y":{"field":"y","type":"quantitative","scale":{"domain":[-14.57,14.55],"nice":false,"zero":false},"title":null,"axis":{"values":[-14,-12,-10,-8,-6,-4,-2,0,2,4,6,8,10,12,14],"labelExpr":"datum.value==14?'':''+datum.value","grid":false,"domainColor":"#808080","domainWidth":2,"tickColor":"#808080","tickWidth":1.5,"tickSize":-8,"labelPadding":17,"labelFont":"DejaVu Sans","labelFontSize":19,"labelColor":"#333333","labelOverlap":false,"title":"mm","titleAngle":0,"titleX":-57,"titleY":2,"titleAlign":"center","titleBaseline":"middle","titleFont":"DejaVu Sans","titleFontSize":17,"titleFontWeight":"normal","titleColor":"#333333"}}
},
"layer":[
{"data":{"name":"contours"},"mark":{"type":"area","orient":"vertical","interpolate":"monotone"},"encoding":{"y2":{"field":"y2"},"detail":{"field":"s"},"color":{"field":"v","type":"quantitative","legend":null,"scale":{"domain":[0,0.125,0.375,0.625,0.875,1],"range":["#00007f","#0000ff","#00ffff","#ffff00","#ff0000","#7f0000"],"clamp":true}}}},
{"data":{"name":"ring"},"mark":{"type":"area","orient":"vertical","color":"#00007f","stroke":"#000033","strokeWidth":1.2},"encoding":{"y2":{"field":"y2"},"detail":{"field":"s"}}},
{"data":{"name":"boxes"},"mark":{"type":"rect","color":"#00008a","stroke":"#000033","strokeWidth":1.2},"encoding":{"x2":{"field":"x2"},"y2":{"field":"y2"}}},
{"data":{"name":"strips"},"mark":{"type":"rect","color":"#0030ff"},"encoding":{"x2":{"field":"x2"},"y2":{"field":"y2"}}},
{"data":{"name":"parts"},"mark":{"type":"area","orient":"vertical","color":"#00006e"},"encoding":{"y2":{"field":"y2"},"detail":{"field":"s"}}},
{"data":{"name":"lines"},"mark":{"type":"line","color":"#000033","strokeWidth":1.1,"opacity":0.75},"encoding":{"detail":{"field":"s"},"order":{"field":"y2"}}},
{"data":{"name":"ring0"},"mark":{"type":"point","shape":"circle","size":130,"filled":false,"stroke":"#15574f","strokeWidth":1.5,"opacity":1},"encoding":{}},
{"data":{"name":"topticks"},"mark":{"type":"rule","color":"#808080","strokeWidth":1.5},"encoding":{"y2":{"field":"y2"}}}
]}
